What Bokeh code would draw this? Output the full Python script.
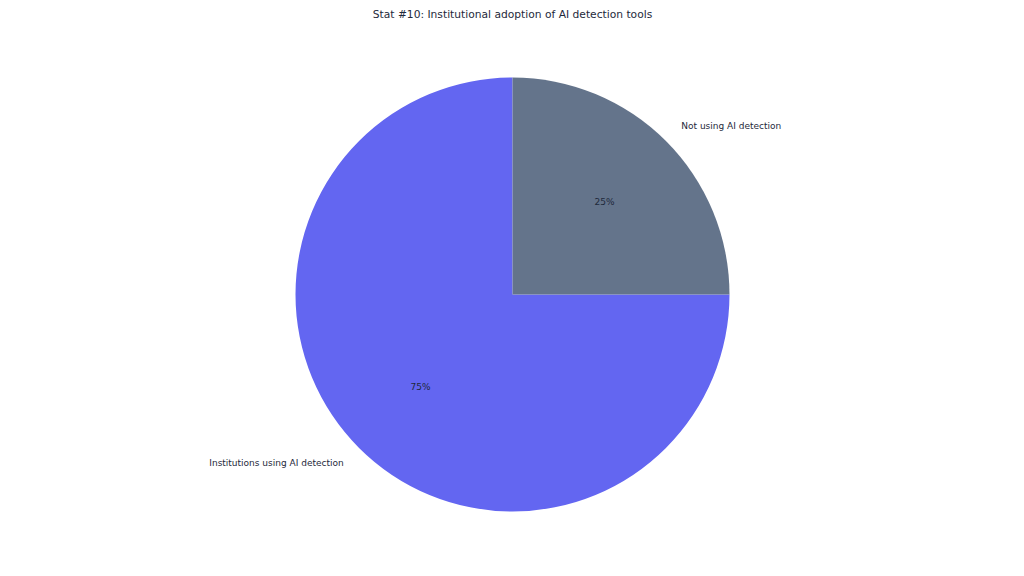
import math
from bokeh.plotting import figure
from bokeh.models import Range1d, ColumnDataSource
from bokeh.core.properties import value
from bokeh.embed import file_html
from bokeh.resources import INLINE

title = "Stat #10: Institutional adoption of AI detection tools"
labels = ["Institutions using AI detection", "Not using AI detection"]
shares = [75, 25]
colors = ["#6366F1", "#64748B"]

W, H = 1008, 560
cx, cy, r = 512, H - 294, 217
start_deg = 90.0

p = figure(width=W, height=H, output_backend="svg", toolbar_location=None,
           x_range=Range1d(0, W), y_range=Range1d(0, H), min_border=0)
p.axis.visible = False
p.grid.visible = False
p.outline_line_color = None
p.background_fill_color = "white"
p.border_fill_color = "white"

total = sum(shares)
starts, ends, lx, ly, la, px, py, pct = [], [], [], [], [], [], [], []
a = math.radians(start_deg)
for s in shares:
    span = 2 * math.pi * s / total
    starts.append(a)
    ends.append(a + span)
    mid = a + span / 2
    lx.append(cx + 1.1 * r * math.cos(mid))
    ly.append(cy + 1.1 * r * math.sin(mid))
    la.append("left" if math.cos(mid) > 0 else "right")
    px.append(cx + 0.6 * r * math.cos(mid))
    py.append(cy + 0.6 * r * math.sin(mid))
    pct.append(f"{s / total * 100:.0f}%")
    a += span

src = ColumnDataSource(dict(start=starts, end=ends, color=colors, label=labels,
                            lx=lx, ly=ly, la=la, px=px, py=py, pct=pct))
p.wedge(x=cx, y=cy, radius=r, start_angle="start", end_angle="end",
        fill_color="color", line_color=None, source=src)
p.text(x="lx", y="ly", text="label", text_align="la", text_baseline="middle",
       text_font=value("DejaVu Sans"), text_font_size="9px", text_color="#1e293b",
       source=src)
p.text(x="px", y="py", text="pct", text_align="center", text_baseline="middle",
       text_font=value("DejaVu Sans"), text_font_size="9px", text_color="#1e293b",
       source=src)
p.text(x=[W / 2 + 8], y=[H - 14], text=[title], text_align="center", text_baseline="middle",
       text_font=value("DejaVu Sans"), text_font_size="10.7px", text_color="#1e293b")

open("out.html", "w").write(file_html(p, INLINE))
